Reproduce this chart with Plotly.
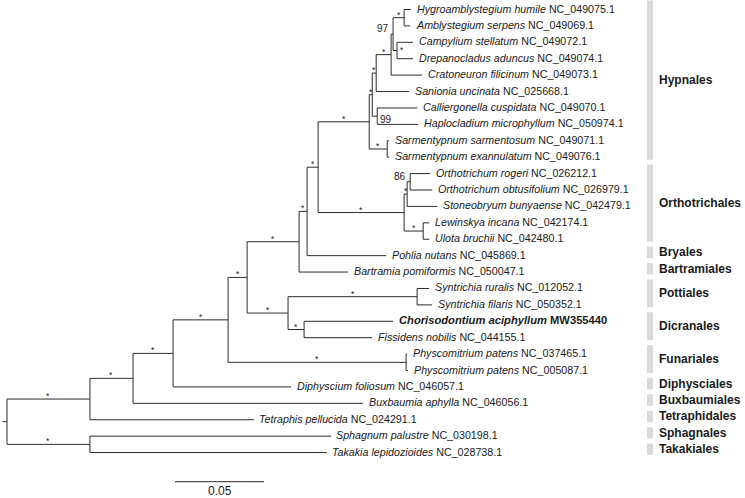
import plotly.graph_objects as go

# ------------------------------------------------------------------ data
tip_taxa = [
    "Hygroamblystegium humile", "Amblystegium serpens", "Campylium stellatum",
    "Drepanocladus aduncus", "Cratoneuron filicinum", "Sanionia uncinata",
    "Calliergonella cuspidata", "Haplocladium microphyllum",
    "Sarmentypnum sarmentosum", "Sarmentypnum exannulatum",
    "Orthotrichum rogeri", "Orthotrichum obtusifolium", "Stoneobryum bunyaense",
    "Lewinskya incana", "Ulota bruchii", "Pohlia nutans", "Bartramia pomiformis",
    "Syntrichia ruralis", "Syntrichia filaris", "Chorisodontium aciphyllum",
    "Fissidens nobilis", "Physcomitrium patens", "Physcomitrium patens",
    "Diphyscium foliosum", "Buxbaumia aphylla", "Tetraphis pellucida",
    "Sphagnum palustre", "Takakia lepidozioides",
]
tip_accessions = [
    "NC_049075.1", "NC_049069.1", "NC_049072.1", "NC_049074.1", "NC_049073.1",
    "NC_025668.1", "NC_049070.1", "NC_050974.1", "NC_049071.1", "NC_049076.1",
    "NC_026212.1", "NC_026979.1", "NC_042479.1", "NC_042174.1", "NC_042480.1",
    "NC_045869.1", "NC_050047.1", "NC_012052.1", "NC_050352.1", "MW355440",
    "NC_044155.1", "NC_037465.1", "NC_005087.1", "NC_046057.1", "NC_046056.1",
    "NC_024291.1", "NC_030198.1", "NC_028738.1",
]
tip_parents = [
    "HA", "HA", "CD", "CD", "N", "R", "N99", "N99", "Sar", "Sar",
    "OO", "OO", "OS", "LU", "LU", "I", "G", "Syn", "Syn", "Dic",
    "Dic", "Phy", "Phy", "D", "C", "A", "B", "B",
]
tip_branch_len = [
    0.0039, 0.0034, 0.0090, 0.0090, 0.0174, 0.0185, 0.0225, 0.0230, 0.0011, 0.0011,
    0.0112, 0.0124, 0.0169, 0.0034, 0.0034, 0.0444, 0.0275, 0.0067, 0.0084, 0.0500,
    0.0382, 0.0006, 0.0011, 0.0663, 0.1292, 0.0921, 0.1354, 0.1331,
]

int_nodes = ["A", "B", "C", "D", "E", "Phy", "F", "H", "Syn", "Dic", "G", "I", "J",
             "L", "OS", "OO", "LU", "K", "Sar", "S", "R", "N99", "N", "O", "HA", "CD"]
int_parents = ["root", "root", "A", "C", "D", "E", "E", "F", "H", "H", "F", "G", "I",
               "J", "L", "OS", "L", "J", "K", "K", "S", "S", "R", "N", "O", "O"]
int_branch_len = [0.0466, 0.0466, 0.0242, 0.0225, 0.0309, 0.1000, 0.0107, 0.0230, 0.0725,
                  0.0090, 0.0292, 0.0045, 0.0062, 0.0483, 0.0017, 0.0017, 0.0107, 0.0287,
                  0.0101, 0.0017, 0.0022, 0.0028, 0.0084, 0.0011, 0.0062, 0.0022]
int_support = ["*", "*", "*", "*", "*", "*", "*", "*", "*", "*", "*", "*", "*",
               "*", "*", "86", "*", "*", "*", "*", "*", "99", "*", "97", "*", "*"]

highlight_taxon = "Chorisodontium aciphyllum"

clade_names = ["Hypnales", "Orthotrichales", "Bryales", "Bartramiales", "Pottiales",
               "Dicranales", "Funariales", "Diphysciales", "Buxbaumiales",
               "Tetraphidales", "Sphagnales", "Takakiales"]
clade_first_tip = [0, 10, 15, 16, 17, 19, 21, 23, 24, 25, 26, 27]
clade_last_tip = [9, 14, 15, 16, 18, 20, 22, 23, 24, 25, 26, 27]

scale_bar_length = 0.05
scale_bar_label = "0.05"

# ------------------------------------------------------------------ layout constants
W, H = 745, 498
PX_PER_UNIT = 1780.0
ROOT_PX = 7.0
TIP0_PX = 9.5
TIP_STEP = 16.41
FONT = "Liberation Sans, Arial, Helvetica, sans-serif"
LINE_COLOR = "#2b2b2b"
TEXT_COLOR = "#1a1a1a"

# ------------------------------------------------------------------ tree geometry
tip_ids = [f"t{i}" for i in range(len(tip_taxa))]
parent_of, bl_of = {}, {}
for n, p, b in zip(int_nodes, int_parents, int_branch_len):
    parent_of[n], bl_of[n] = p, b
for n, p, b in zip(tip_ids, tip_parents, tip_branch_len):
    parent_of[n], bl_of[n] = p, b
children = {}
for n, p in parent_of.items():
    children.setdefault(p, []).append(n)

xcache, ycache = {}, {}


def xpos(n):
    if n == "root":
        return 0.0
    if n not in xcache:
        xcache[n] = xpos(parent_of[n]) + bl_of[n]
    return xcache[n]


def ypos(n):
    if n in tip_ids:
        return float(tip_ids.index(n))
    if n not in ycache:
        ys = [ypos(c) for c in children[n]]
        ycache[n] = sum(ys) / len(ys)
    return ycache[n]


seg_x, seg_y = [], []
for n in list(int_nodes) + tip_ids:
    p = parent_of[n]
    seg_x += [xpos(p), xpos(n), None]
    seg_y += [ypos(n), ypos(n), None]
for n in ["root"] + int_nodes:
    cy = [ypos(c) for c in children[n]]
    seg_x += [xpos(n), xpos(n), None]
    seg_y += [min(cy), max(cy), None]
# root stub
seg_x += [xpos("root") - 4.5 / PX_PER_UNIT, xpos("root"), None]
seg_y += [ypos("root"), ypos("root"), None]

fig = go.Figure()
fig.add_trace(go.Scatter(x=seg_x, y=seg_y, mode="lines",
                         line=dict(color=LINE_COLOR, width=1), hoverinfo="skip",
                         showlegend=False))

annotations = []
# tip labels
for i, (tx, acc) in enumerate(zip(tip_taxa, tip_accessions)):
    if tx == highlight_taxon:
        txt = f"<b><i>{tx}</i> {acc}</b>"
        fsize = 11.2
    else:
        txt = f"<i>{tx}</i> {acc}"
        fsize = 10.7
    annotations.append(dict(x=xpos(tip_ids[i]), y=i, text=txt, showarrow=False,
                            xanchor="left", yanchor="middle", xshift=3.5, yshift=1,
                            font=dict(family=FONT, size=fsize, color=TEXT_COLOR)))

# support labels
label_place = {
    "O": dict(at="node", xanchor="right", xshift=-2, yshift=6),
    "OO": dict(at="node", xanchor="right", xshift=-2, yshift=5),
    "N99": dict(at="node", xanchor="left", xshift=1, yshift=-3),
    "CD": dict(at="node", xanchor="left", xshift=1, yshift=1),
}
for n, s in zip(int_nodes, int_support):
    if not s:
        continue
    pl = label_place.get(n)
    size = 8.5 if s == "*" else 10
    if pl:
        annotations.append(dict(x=xpos(n), y=ypos(n), text=s, showarrow=False,
                                xanchor=pl["xanchor"], yanchor="middle",
                                xshift=pl["xshift"], yshift=pl["yshift"],
                                font=dict(family=FONT, size=size, color=TEXT_COLOR)))
    else:
        xm = (xpos(parent_of[n]) + xpos(n)) / 2
        annotations.append(dict(x=xm, y=ypos(n), text=s, showarrow=False,
                                xanchor="center", yanchor="middle", yshift=3,
                                font=dict(family=FONT, size=size, color=TEXT_COLOR)))

# clade bars & labels
shapes = []
BAR_X0, BAR_X1, LABEL_X = 647 / W, 653 / W, 657 / W
for name, a, b in zip(clade_names, clade_first_tip, clade_last_tip):
    y0, y1 = a - 0.55, b + 0.15
    shapes.append(dict(type="rect", xref="paper", yref="y", x0=BAR_X0, x1=BAR_X1,
                       y0=y0, y1=y1, fillcolor="#dadada", line=dict(width=0),
                       layer="below"))
    annotations.append(dict(xref="paper", yref="y", x=LABEL_X, y=(y0 + y1) / 2,
                            text=f"<b>{name}</b>", showarrow=False, xanchor="left",
                            yanchor="middle",
                            font=dict(family=FONT, size=12, color=TEXT_COLOR)))

# scale bar
sb_x0 = (175 - ROOT_PX) / PX_PER_UNIT
sb_y = (481.7 - TIP0_PX) / TIP_STEP
shapes.append(dict(type="line", xref="x", yref="y", x0=sb_x0, x1=sb_x0 + scale_bar_length,
                   y0=sb_y, y1=sb_y, line=dict(color=LINE_COLOR, width=1)))
annotations.append(dict(x=sb_x0 + scale_bar_length / 2, y=(490.5 - TIP0_PX) / TIP_STEP,
                        text=scale_bar_label, showarrow=False, xanchor="center",
                        yanchor="middle",
                        font=dict(family=FONT, size=12, color=TEXT_COLOR)))

fig.update_layout(
    width=W, height=H, margin=dict(l=0, r=0, t=0, b=0),
    paper_bgcolor="white", plot_bgcolor="white",
    xaxis=dict(visible=False, range=[-ROOT_PX / PX_PER_UNIT, (W - ROOT_PX) / PX_PER_UNIT],
               fixedrange=True),
    yaxis=dict(visible=False, range=[(H - TIP0_PX) / TIP_STEP, -TIP0_PX / TIP_STEP],
               fixedrange=True),
    annotations=annotations, shapes=shapes, showlegend=False,
)
fig.write_html("out.html", config={"displayModeBar": False},
               post_script="document.body.style.margin='0';"
                           "document.body.style.overflow='hidden';")
